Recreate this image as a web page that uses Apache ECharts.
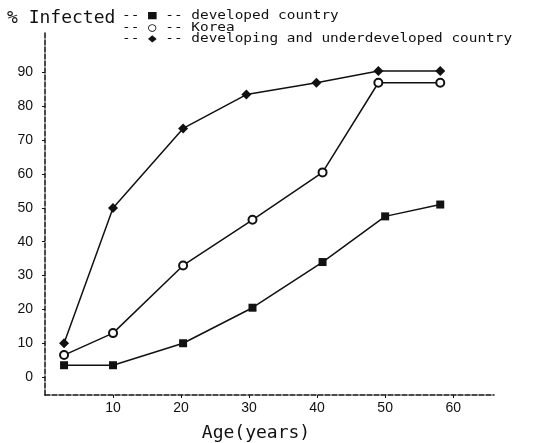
<!DOCTYPE html>
<html>
<head>
<meta charset="utf-8">
<script src="https://cdn.jsdelivr.net/npm/echarts@6/dist/echarts.min.js"></script>
<style>html,body{margin:0;background:#fff}#chart{width:549px;height:443px}</style>
</head>
<body>
<div id="chart"></div>
<script>
// % infected by age
const developedAges = [2.8, 10, 20.3, 30.5, 40.8, 50, 58.1];
const developedPct = [3.5, 3.5, 10, 20.5, 34, 47.5, 51];
const koreaAges = [2.8, 10, 20.3, 30.5, 40.8, 49, 58.1];
const koreaPct = [6.5, 13, 33, 46.5, 60.5, 87, 87];
const developingAges = [2.8, 10, 20.3, 29.6, 39.9, 49, 58.1];
const developingPct = [10, 50, 73.5, 83.5, 87, 90.5, 90.5];
const ageTicks = [10, 20, 30, 40, 50, 60];
const pctTicks = [0, 10, 20, 30, 40, 50, 60, 70, 80, 90];
const legendLines = [
  "-- \u25A0 -- developed country",
  "-- \u25CB -- Korea",
  "-- \u25C6 -- developing and underdeveloped country",
];

const INK = "#111";
const MONO = "'DejaVu Sans Mono', monospace";
const zip = (xs, ys) => xs.map((x, i) => [x, ys[i]]);

function line(name, data, symbol, size) {
  return {
    name, type: "line", data, symbol, symbolSize: size,
    lineStyle: { color: INK, width: 1.5 },
    itemStyle: { color: INK, borderWidth: 1.5 },
    emphasis: { disabled: true },
  };
}

const axisLine = { onZero: false, lineStyle: { color: INK, width: 1.5, type: [5, 2] } };

const chart = echarts.init(document.getElementById("chart"));
chart.setOption({
  animation: false,
  grid: { left: 45, right: 55, top: 32, bottom: 48, containLabel: false, outerBoundsMode: "none" },
  title: {
    text: "% Infected", left: 2, top: 4,
    textStyle: { fontFamily: MONO, fontSize: 18, fontWeight: "normal", color: INK },
  },
  graphic: legendLines.map((t, i) => ({
    type: "text", left: 122, top: 10 + i * 11.5, scaleX: 1.2,
    style: { text: t, fontFamily: MONO, fontSize: 12, fill: INK },
  })),
  xAxis: {
    type: "value", min: 0, max: 66,
    name: "Age(years)", nameLocation: "middle", nameGap: 29,
    nameTextStyle: { fontFamily: MONO, fontSize: 18, color: INK, padding: [0, 27, 0, 0] },
    axisLine,
    axisTick: { length: 3, lineStyle: { color: INK }, customValues: ageTicks },
    axisLabel: { customValues: ageTicks, color: INK, fontSize: 14, margin: 6, fontFamily: "'Liberation Sans', sans-serif" },
    splitLine: { show: false },
  },
  yAxis: {
    type: "value", min: -5.3, max: 102,
    axisLine,
    axisTick: { length: 3, lineStyle: { color: INK }, customValues: pctTicks },
    axisLabel: { customValues: pctTicks, color: INK, fontSize: 14, margin: 12, fontFamily: "'Liberation Sans', sans-serif" },
    splitLine: { show: false },
  },
  series: [
    line("developed country", zip(developedAges, developedPct), "rect", 8),
    line("Korea", zip(koreaAges, koreaPct), "emptyCircle", 8),
    line("developing and underdeveloped country", zip(developingAges, developingPct), "diamond", 10),
  ],
});
</script>
</body>
</html>
